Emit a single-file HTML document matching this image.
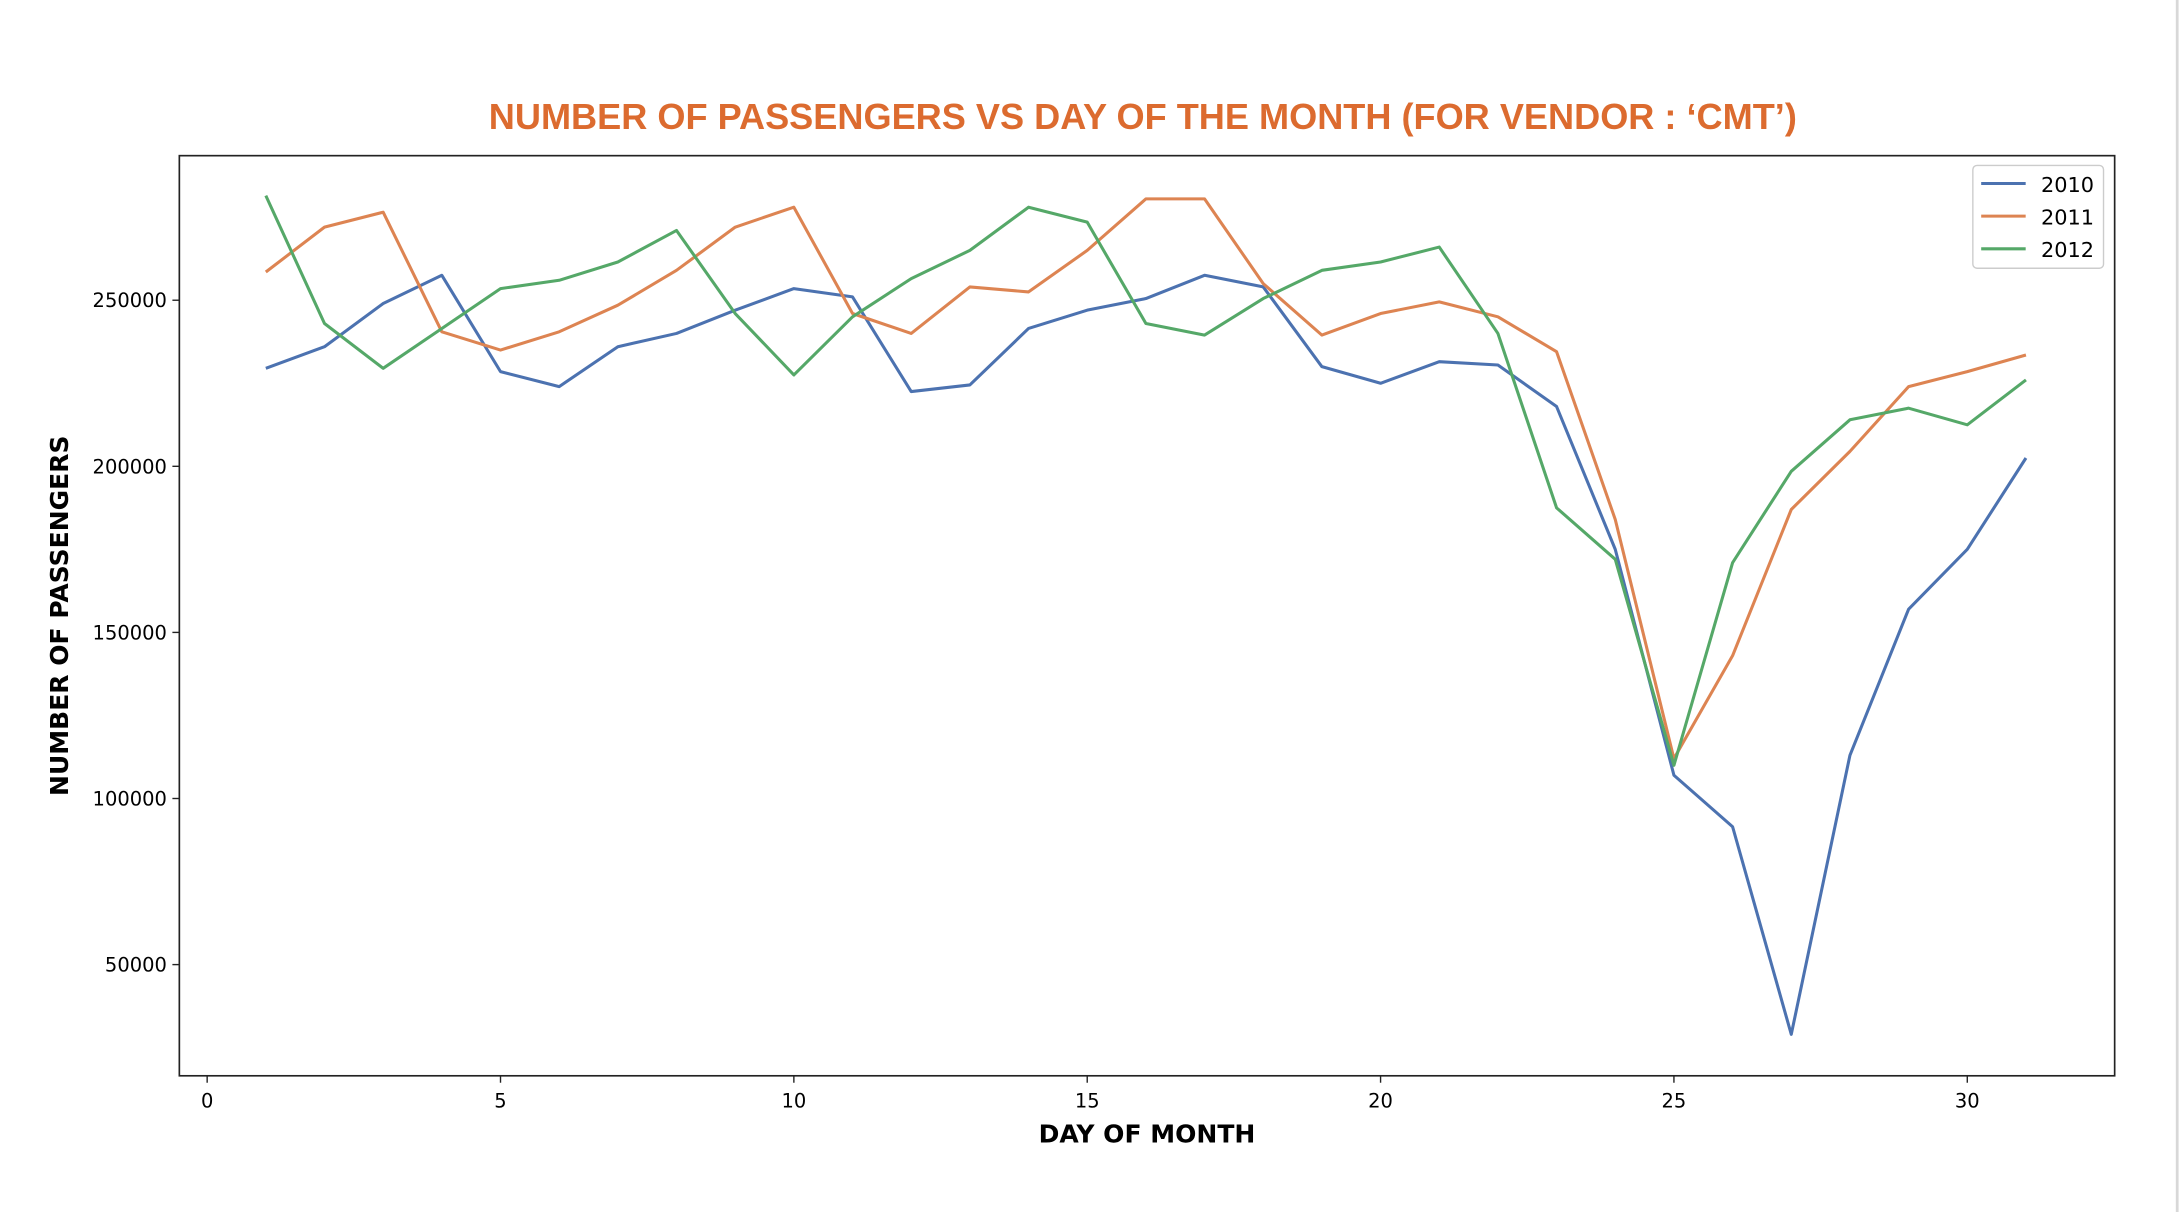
<!DOCTYPE html>
<html><head><meta charset="utf-8"><style>
html,body{margin:0;padding:0;background:#fff;}
svg{display:block;}
text{font-family:"DejaVu Sans","Liberation Sans",sans-serif;}
</style></head><body>
<svg id="chart" width="2180" height="1212" viewBox="0 0 1568 872" preserveAspectRatio="none" xmlns="http://www.w3.org/2000/svg">
<rect x="0" y="0" width="1568" height="872" fill="#fff"/>
<line x1="1566" y1="0" x2="1566" y2="872" stroke="#d8d8d8" stroke-width="2"/>
<text x="822" y="93" text-anchor="middle" font-family="Liberation Sans, sans-serif" font-weight="bold" font-size="26" fill="#dc6b2f" style="font-family:'Liberation Sans',sans-serif">NUMBER OF PASSENGERS VS DAY OF THE MONTH (FOR VENDOR : ‘CMT’)</text>
<g id="plot"></g>
<text x="825" y="822" text-anchor="middle" font-weight="bold" font-size="18">DAY OF MONTH</text>
<text transform="translate(49,443) rotate(-90)" text-anchor="middle" font-weight="bold" font-size="18">NUMBER OF PASSENGERS</text>
</svg>
<script>
const days = Array.from({length:31},(_,i)=>i+1);
const series2010 = [229500,236000,249000,257500,228500,224000,236000,240000,247000,253500,251000,222500,224500,241500,247000,250500,257500,254000,230000,225000,231500,230500,218000,175000,107000,91500,29000,113000,157000,175000,202500];
const series2011 = [258500,272000,276500,240500,235000,240500,248500,259000,272000,278000,246000,240000,254000,252500,265000,280500,280500,255000,239500,246000,249500,245000,234500,184000,112000,143000,187000,204500,224000,228500,233500];
const series2012 = [281500,243000,229500,241500,253500,256000,261500,271000,246000,227500,245000,256500,265000,278000,273500,243000,239500,250500,259000,261500,266000,240000,187500,172000,110000,171000,198500,214000,217500,212500,226000];
const seriesNames = ["2010","2011","2012"];
const xTicks = [0,5,10,15,20,25,30];
const yTicks = [50000,100000,150000,200000,250000];

const NS="http://www.w3.org/2000/svg";
const colors=["#4c72b0","#dd8452","#55a868"];
const PL=129,PR=1521,PT=112,PB=774;
function xs(d){return 149+(1415-149)/30*d;}
function ys(v){return 216+(250000-v)/50000*119.5;}
const g=document.getElementById('plot');
function mk(t,a){const e=document.createElementNS(NS,t);for(const k in a)e.setAttribute(k,a[k]);g.appendChild(e);return e;}
const frame=mk('rect',{x:PL,y:PT,width:PR-PL,height:PB-PT,fill:'none',stroke:'#222','stroke-width':1.2});


xTicks.forEach(t=>{
  const l=mk('line',{x1:xs(t),x2:xs(t),y1:PB,y2:PB+5,stroke:'#222'});
  
  
  const tx=mk('text',{x:xs(t),y:PB+23,'text-anchor':'middle','font-size':14});
  tx.textContent=t;
  
  
});
yTicks.forEach(t=>{
  const l=mk('line',{x1:PL-5,x2:PL,y1:ys(t),y2:ys(t),stroke:'#222'});
  
  
  const tx=mk('text',{x:PL-9,y:ys(t)+5,'text-anchor':'end','font-size':14});
  tx.textContent=t;
  
  
});
[series2010,series2011,series2012].forEach((s,i)=>{
  const p=mk('polyline',{points:s.map((v,j)=>xs(days[j])+','+ys(v)).join(' '),fill:'none',stroke:colors[i],'stroke-width':2.2,'stroke-linejoin':'round'});
  
  
});
const lb=mk('rect',{x:1419,y:119,width:94,height:74,rx:3,fill:'#fff',stroke:'#ccc'});


seriesNames.forEach((n,i)=>{
  const y=132+i*23.5;
  const l=mk('line',{x1:1425,x2:1457,y1:y,y2:y,stroke:colors[i],'stroke-width':2.2});
  
  
  const t=mk('text',{x:1468,y:y+6,'font-size':15});
  t.textContent=n;
  
  
});
</script>
</body></html>
